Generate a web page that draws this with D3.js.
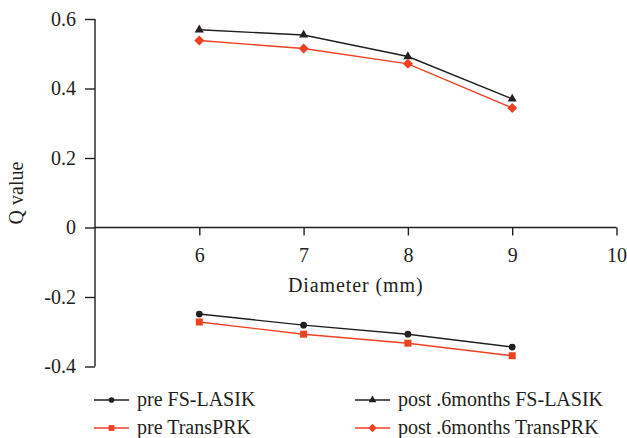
<!DOCTYPE html>
<html><head><meta charset="utf-8">
<script src="https://cdn.jsdelivr.net/npm/d3@7"></script>
<style>body{margin:0;background:#fff}svg{display:block}</style>
</head><body><svg id="c" width="627" height="438" font-family="'Liberation Serif', 'Times New Roman', Times, serif"></svg>
<script>
const diameters = [6, 7, 8, 9];
const preFS = [-0.249, -0.281, -0.307, -0.344];
const postFS = [0.569, 0.554, 0.492, 0.370];
const preTrans = [-0.272, -0.307, -0.333, -0.369];
const postTrans = [0.538, 0.515, 0.471, 0.344];
const xTicks = [6, 7, 8, 9, 10];
const yTicks = [-0.4, -0.2, 0, 0.2, 0.4, 0.6];
const seriesNames = ["pre FS-LASIK", "post .6months FS-LASIK", "pre TransPRK", "post .6months TransPRK"];

const BLACK = "#231f20", RED = "#ee4023";
const FS = 20;
const series = [
  {name: seriesNames[0], values: preFS, color: BLACK, sym: d3.symbolCircle, size: 36, rot: 0},
  {name: seriesNames[1], values: postFS, color: BLACK, sym: d3.symbolTriangle, size: 36, rot: 0},
  {name: seriesNames[2], values: preTrans, color: RED, sym: d3.symbolSquare, size: 49, rot: 0},
  {name: seriesNames[3], values: postTrans, color: RED, sym: d3.symbolSquare, size: 50, rot: 45}
];

const svg = d3.select("#c");
const x = d3.scaleLinear().domain([5, 10]).range([95, 616.5]);
const y = d3.scaleLinear().domain([-0.4, 0.6]).range([366.5, 19]);

const fmtY = d => d === 0 ? "0" : d3.format(".1f")(d).replace("\u2212", "-");
const yAx = svg.append("g").attr("transform", `translate(${x(5)},0)`)
  .call(d3.axisLeft(y).tickValues(yTicks).tickSize(10).tickPadding(9).tickFormat(fmtY));
yAx.select(".domain").attr("d", `M-0,${y(0.6)}V${y(-0.4)}`);
const xAx = svg.append("g").attr("transform", `translate(0,${y(0)})`)
  .call(d3.axisBottom(x).tickValues(xTicks).tickSize(8).tickPadding(12).tickFormat(d3.format("d")));
xAx.select(".domain").attr("d", `M${x(5)},0H${x(10)}`);
[yAx, xAx].forEach(g => {
  g.attr("font-family", null).attr("font-size", null);
  g.selectAll("path,line").attr("stroke", BLACK).attr("stroke-width", 1.4);
  g.selectAll("text").attr("font-size", FS).attr("fill", BLACK);
});

svg.append("text").attr("x", x(7.5)).attr("y", 292).attr("text-anchor", "middle").attr("fill", BLACK)
  .attr("font-size", FS).attr("letter-spacing", 0.9).text("Diameter (mm)");
svg.append("text").attr("transform", "translate(23,193) rotate(-90)").attr("text-anchor", "middle").attr("fill", BLACK)
  .attr("font-size", FS).text("Q value");

const line = d3.line().x((d, i) => x(diameters[i])).y(d => y(d));
series.forEach(s => {
  svg.append("path").attr("d", line(s.values)).attr("fill", "none")
    .attr("stroke", s.color).attr("stroke-width", 1.4);
  svg.selectAll(null).data(s.values).enter().append("path")
    .attr("transform", (d, i) => `translate(${x(diameters[i])},${y(d)}) rotate(${s.rot})`)
    .attr("d", d3.symbol().type(s.sym).size(s.size)).attr("fill", s.color);
});

const legPos = [[94, 400], [355, 400], [94, 428], [355, 428]];
series.forEach((s, i) => {
  const [lx, ly] = legPos[i];
  svg.append("line").attr("x1", lx).attr("x2", lx + 35).attr("y1", ly).attr("y2", ly)
    .attr("stroke", s.color).attr("stroke-width", 1.4);
  svg.append("path").attr("transform", `translate(${lx + 17.5},${ly}) rotate(${s.rot})`)
    .attr("d", d3.symbol().type(s.sym).size(s.size * 0.7)).attr("fill", s.color);
  svg.append("text").attr("x", lx + 43).attr("y", ly + 5.5).attr("font-size", FS).attr("fill", BLACK).text(s.name);
});
</script></body></html>
